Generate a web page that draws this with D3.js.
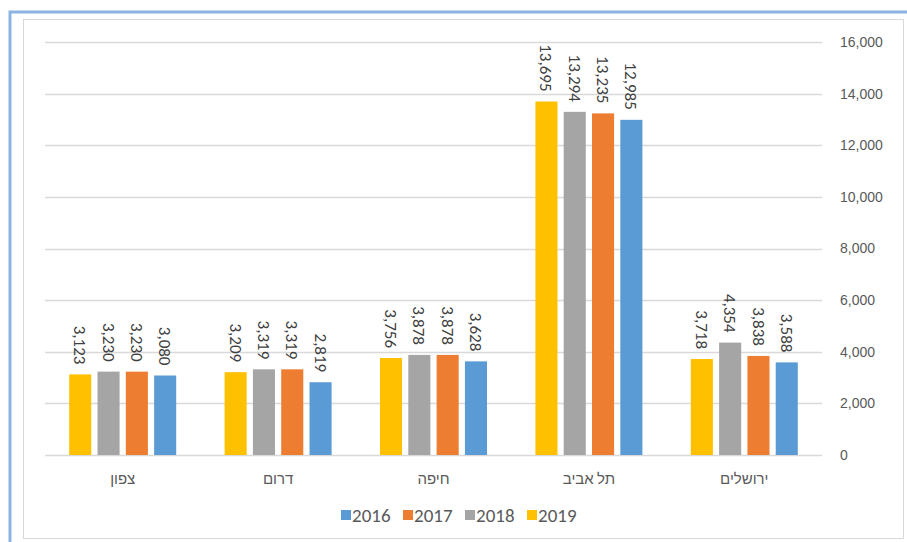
<!DOCTYPE html>
<html lang="he">
<head>
<meta charset="UTF-8">
<title>chart</title>
<script src="https://d3js.org/d3.v7.min.js"></script>
<style>
  body { margin: 0; background: #fff; }
  svg { display: block; font-family: Calibri, "Liberation Sans", "DejaVu Sans", sans-serif; }
</style>
</head>
<body>
<script>
  // categories as drawn left to right
  var categories = ["צפון", "דרום", "חיפה", "תל אביב", "ירושלים"];
  // bars inside each group, left to right
  var years = ["2019", "2018", "2017", "2016"];
  var legendYears = ["2016", "2017", "2018", "2019"];

  var values2016 = [3080, 2819, 3628, 12985, 3588];
  var values2017 = [3230, 3319, 3878, 13235, 3838];
  var values2018 = [3230, 3319, 3878, 13294, 4354];
  var values2019 = [3123, 3209, 3756, 13695, 3718];

  var yTicks = [0, 2000, 4000, 6000, 8000, 10000, 12000, 14000, 16000];

  var colors = { "2016": "#5b9bd5", "2017": "#ed7d31", "2018": "#a5a5a5", "2019": "#ffc000" };
  var series = { "2016": values2016, "2017": values2017, "2018": values2018, "2019": values2019 };

  var width = 907, height = 542;
  var plotLeft = 45, plotRight = 822, plotTop = 42, plotBottom = 455;

  var svg = d3.select("body").append("svg")
      .attr("width", width).attr("height", height);

  // frames
  svg.append("rect")
      .attr("x", 10).attr("y", 12)
      .attr("width", 905).attr("height", 540)
      .attr("fill", "none").attr("stroke", "#8db3e2").attr("stroke-width", 3);
  svg.append("rect")
      .attr("x", 23.5).attr("y", 19.5)
      .attr("width", 880).attr("height", 519)
      .attr("fill", "none").attr("stroke", "#d9d9d9").attr("stroke-width", 1);

  var x0 = d3.scaleBand().domain(categories).range([plotLeft, plotRight]).paddingInner(0).paddingOuter(0);
  var groupW = 107;
  var x1 = d3.scaleBand().domain(years).range([0, groupW]).paddingInner(0.22).paddingOuter(0);
  var y = d3.scaleLinear().domain([0, 16000]).range([plotBottom, plotTop]);

  // grid
  svg.append("g").selectAll("line")
      .data(yTicks)
      .enter().append("line")
      .attr("x1", plotLeft).attr("x2", plotRight)
      .attr("y1", function(d) { return Math.round(y(d)) + 0.5; })
      .attr("y2", function(d) { return Math.round(y(d)) + 0.5; })
      .attr("stroke", "#d9d9d9").attr("stroke-width", 1.3);

  // right axis labels
  var axisY = d3.axisRight(y).tickValues(yTicks).tickSize(0).tickPadding(0)
      .tickFormat(d3.format(","));
  var gy = svg.append("g").attr("transform", "translate(" + (plotRight + 18) + ",0)").call(axisY);
  gy.select(".domain").remove();
  gy.selectAll("text").attr("fill", "#595959").style("font-size", "14px");

  // bars
  var groups = svg.append("g").selectAll("g")
      .data(categories)
      .enter().append("g")
      .attr("transform", function(d) {
        return "translate(" + (x0(d) + (x0.bandwidth() - groupW) / 2) + ",0)";
      });

  groups.selectAll("rect")
      .data(function(c, i) { return years.map(function(yr) { return { year: yr, value: series[yr][i] }; }); })
      .enter().append("rect")
      .attr("x", function(d) { return x1(d.year); })
      .attr("y", function(d) { return y(d.value); })
      .attr("width", x1.bandwidth())
      .attr("height", function(d) { return plotBottom - y(d.value); })
      .attr("fill", function(d) { return colors[d.year]; });

  // value labels, rotated
  groups.selectAll("text")
      .data(function(c, i) { return years.map(function(yr) { return { year: yr, value: series[yr][i] }; }); })
      .enter().append("text")
      .attr("transform", function(d) {
        return "translate(" + (x1(d.year) + x1.bandwidth() / 2) + "," + (y(d.value) - 10) + ") rotate(90)";
      })
      .attr("text-anchor", "end")
      .attr("dy", "0.35em")
      .attr("fill", "#404040")
      .style("font-size", "17px")
      .text(function(d) { return d3.format(",")(d.value); });

  // category labels
  svg.append("g").selectAll("text")
      .data(categories)
      .enter().append("text")
      .attr("x", function(d) { return x0(d) + x0.bandwidth() / 2; })
      .attr("y", 484)
      .attr("text-anchor", "middle")
      .attr("fill", "#595959")
      .style("font-size", "15px")
      .text(function(d) { return d; });

  // legend
  var legend = svg.append("g").attr("transform", "translate(341,515)");
  var item = legend.selectAll("g")
      .data(legendYears)
      .enter().append("g")
      .attr("transform", function(d, i) { return "translate(" + (i * 62) + ",0)"; });
  item.append("rect")
      .attr("x", 0).attr("y", -5)
      .attr("width", 10).attr("height", 10)
      .attr("fill", function(d) { return colors[d]; });
  item.append("text")
      .attr("x", 11).attr("y", 0)
      .attr("dy", "0.35em")
      .attr("fill", "#595959")
      .style("font-size", "19px")
      .text(function(d) { return d; });
</script>
</body>
</html>
